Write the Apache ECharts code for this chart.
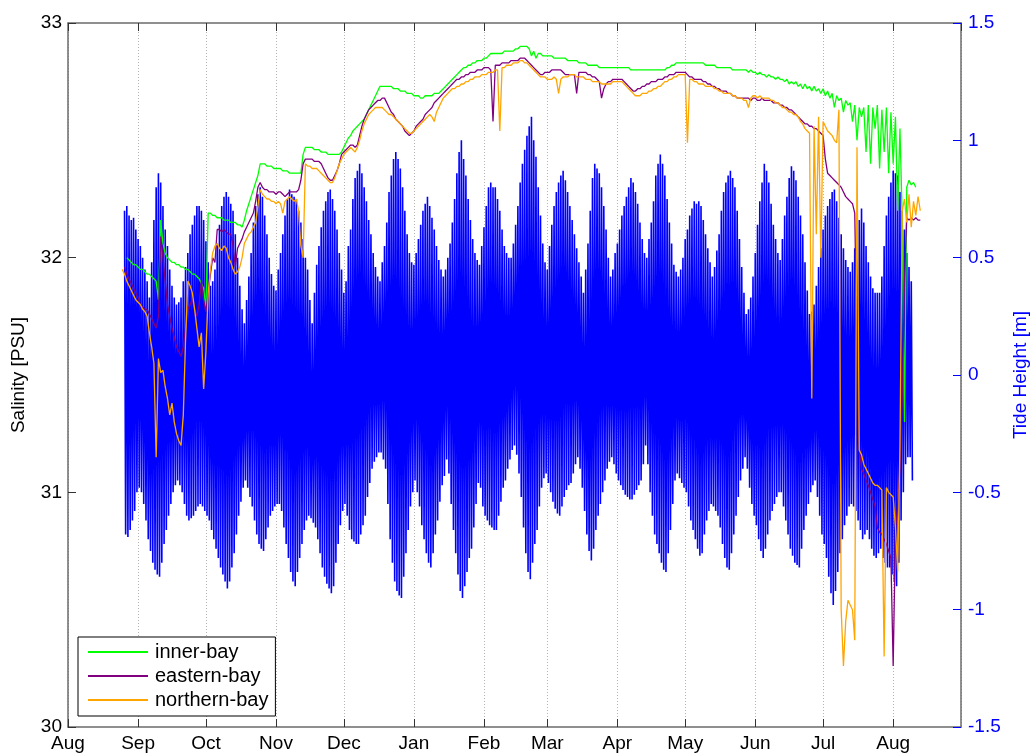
<!DOCTYPE html>
<html>
<head>
<meta charset="utf-8">
<script src="https://cdn.jsdelivr.net/npm/echarts@6/dist/echarts.min.js"></script>
<style>
  html, body { margin: 0; padding: 0; background: #ffffff; }
  #chart { width: 1032px; height: 754px; }
</style>
</head>
<body>
<div id="chart"></div>
<script>
// Month names used for the time-axis labels
const monthLabels = ['Jan', 'Feb', 'Mar', 'Apr', 'May', 'Jun', 'Jul', 'Aug', 'Sep', 'Oct', 'Nov', 'Dec'];

// Axis range of the record
const axisStart = [2012, 7, 1];   // 1 Aug 2012
const axisEnd = [2013, 7, 31];    // 31 Aug 2013

// Daily salinity [PSU], one value per day starting 25 Aug 2012
const salinityStart = [2012, 7, 25];

const innerBay = [
  null, null, 32.00, 31.99, 31.98, 31.97, 31.97, 31.96, 31.95, 31.95,
  31.94, 31.93, 31.93, 31.92, 31.91, 31.90, 31.82, 32.16, 32.06, 32.02,
  32.00, 31.99, 31.98, 31.98, 31.97, 31.97, 31.96, 31.96, 31.95, 31.95,
  31.94, 31.93, 31.93, 31.92, 31.91, 31.89, 31.87, 31.78, 32.19, 32.19,
  32.18, 32.18, 32.17, 32.17, 32.17, 32.16, 32.16, 32.16, 32.15, 32.15,
  32.15, 32.14, 32.14, 32.13, 32.16, 32.20, 32.23, 32.26, 32.29, 32.32,
  32.35, 32.40, 32.40, 32.40, 32.39, 32.39, 32.39, 32.38, 32.38, 32.38,
  32.38, 32.37, 32.37, 32.37, 32.36, 32.36, 32.36, 32.36, 32.36, 32.36,
  32.44, 32.47, 32.47, 32.47, 32.47, 32.46, 32.46, 32.46, 32.45, 32.45,
  32.45, 32.44, 32.44, 32.44, 32.44, 32.44, 32.44, 32.45, 32.47, 32.49,
  32.51, 32.52, 32.54, 32.55, 32.56, 32.57, 32.58, 32.59, 32.61, 32.63,
  32.65, 32.67, 32.69, 32.71, 32.73, 32.73, 32.73, 32.73, 32.73, 32.73,
  32.72, 32.72, 32.72, 32.71, 32.71, 32.71, 32.70, 32.70, 32.70, 32.69,
  32.69, 32.69, 32.68, 32.68, 32.69, 32.69, 32.69, 32.69, 32.70, 32.70,
  32.70, 32.71, 32.72, 32.73, 32.74, 32.75, 32.76, 32.77, 32.78, 32.79,
  32.80, 32.81, 32.81, 32.82, 32.82, 32.83, 32.83, 32.84, 32.84, 32.84,
  32.85, 32.85, 32.86, 32.87, 32.87, 32.87, 32.87, 32.87, 32.87, 32.88,
  32.88, 32.88, 32.88, 32.88, 32.89, 32.89, 32.90, 32.90, 32.90, 32.90,
  32.89, 32.86, 32.88, 32.85, 32.87, 32.87, 32.86, 32.86, 32.86, 32.86,
  32.86, 32.85, 32.85, 32.85, 32.85, 32.85, 32.85, 32.84, 32.84, 32.84,
  32.84, 32.84, 32.83, 32.83, 32.83, 32.83, 32.82, 32.82, 32.82, 32.82,
  32.82, 32.81, 32.81, 32.81, 32.81, 32.81, 32.81, 32.81, 32.81, 32.81,
  32.81, 32.81, 32.81, 32.81, 32.81, 32.80, 32.80, 32.80, 32.80, 32.80,
  32.80, 32.80, 32.80, 32.80, 32.80, 32.80, 32.80, 32.80, 32.80, 32.80,
  32.80, 32.81, 32.81, 32.82, 32.82, 32.83, 32.83, 32.83, 32.83, 32.83,
  32.83, 32.83, 32.83, 32.83, 32.83, 32.83, 32.83, 32.83, 32.82, 32.82,
  32.82, 32.82, 32.82, 32.81, 32.81, 32.81, 32.81, 32.81, 32.81, 32.81,
  32.80, 32.80, 32.80, 32.80, 32.80, 32.80, 32.80, 32.79, 32.80, 32.79,
  32.79, 32.78, 32.79, 32.78, 32.78, 32.77, 32.78, 32.77, 32.77, 32.76,
  32.77, 32.76, 32.76, 32.75, 32.76, 32.74, 32.75, 32.74, 32.75, 32.73,
  32.74, 32.72, 32.74, 32.72, 32.73, 32.71, 32.73, 32.71, 32.72, 32.70,
  32.72, 32.69, 32.71, 32.68, 32.70, 32.64, 32.69, 32.67, 32.68, 32.62,
  32.67, 32.65, 32.66, 32.58, 32.65, 32.50, 32.64, 32.60, 32.64, 32.45,
  32.65, 32.40, 32.64, 32.55, 32.65, 32.38, 32.63, 32.45, 32.64, 32.36,
  32.62, 32.40, 32.60, 32.20, 32.55, 32.17, 31.30, 32.30, 32.33, 32.31,
  32.32, 32.30, null, null
];

const easternBay = [
  null, 31.96, 31.93, 31.91, 31.89, 31.87, 31.85, 31.83, 31.80, 31.79,
  31.78, 31.78, 31.76, 31.74, 31.72, 31.70, 31.75, 32.09, 32.00, 31.90,
  31.80, 31.75, 31.70, 31.66, 31.62, 31.60, 31.58, 31.62, 31.70, 31.78,
  31.80, 31.82, 31.78, 31.75, 31.80, 31.90, 31.82, 31.77, 31.85, 31.93,
  32.00, 31.98, 32.12, 32.12, 32.11, 32.12, 32.11, 32.10, 32.10, 32.05,
  31.96, 32.04, 32.06, 32.08, 32.11, 32.13, 32.15, 32.17, 32.19, 32.24,
  32.30, 32.32, 32.30, 32.29, 32.29, 32.28, 32.28, 32.28, 32.27, 32.28,
  32.28, 32.27, 32.26, 32.27, 32.28, 32.28, 32.28, 32.28, 32.29, 32.33,
  32.40, 32.42, 32.42, 32.42, 32.42, 32.41, 32.41, 32.41, 32.40, 32.38,
  32.36, 32.34, 32.33, 32.33, 32.35, 32.37, 32.40, 32.44, 32.45, 32.46,
  32.47, 32.48, 32.48, 32.47, 32.48, 32.52, 32.56, 32.59, 32.61, 32.63,
  32.64, 32.65, 32.66, 32.67, 32.67, 32.68, 32.68, 32.66, 32.64, 32.62,
  32.61, 32.59, 32.58, 32.57, 32.56, 32.54, 32.53, 32.52, 32.53, 32.54,
  32.56, 32.57, 32.58, 32.59, 32.61, 32.62, 32.63, 32.64, 32.66, 32.67,
  32.68, 32.69, 32.70, 32.71, 32.72, 32.73, 32.74, 32.75, 32.76, 32.76,
  32.77, 32.77, 32.78, 32.78, 32.79, 32.79, 32.79, 32.80, 32.80, 32.80,
  32.81, 32.81, 32.81, 32.80, 32.58, 32.82, 32.82, 32.82, 32.83, 32.83,
  32.83, 32.83, 32.84, 32.84, 32.84, 32.84, 32.85, 32.85, 32.85, 32.84,
  32.83, 32.82, 32.81, 32.80, 32.79, 32.78, 32.78, 32.79, 32.79, 32.79,
  32.80, 32.80, 32.80, 32.80, 32.80, 32.79, 32.78, 32.78, 32.78, 32.78,
  32.78, 32.70, 32.79, 32.79, 32.79, 32.79, 32.78, 32.78, 32.77, 32.77,
  32.76, 32.75, 32.68, 32.72, 32.74, 32.75, 32.75, 32.76, 32.76, 32.76,
  32.76, 32.76, 32.75, 32.74, 32.73, 32.72, 32.71, 32.71, 32.72, 32.72,
  32.73, 32.73, 32.74, 32.74, 32.75, 32.75, 32.75, 32.76, 32.76, 32.76,
  32.77, 32.77, 32.78, 32.78, 32.78, 32.79, 32.79, 32.79, 32.79, 32.79,
  32.78, 32.77, 32.77, 32.76, 32.76, 32.76, 32.76, 32.75, 32.75, 32.74,
  32.74, 32.73, 32.73, 32.72, 32.72, 32.71, 32.71, 32.71, 32.70, 32.70,
  32.69, 32.69, 32.68, 32.68, 32.68, 32.68, 32.68, 32.68, 32.67, 32.68,
  32.68, 32.67, 32.67, 32.68, 32.67, 32.67, 32.67, 32.67, 32.66, 32.66,
  32.66, 32.65, 32.65, 32.64, 32.64, 32.63, 32.63, 32.62, 32.61, 32.60,
  32.59, 32.58, 32.57, 32.57, 32.56, 32.56, 32.55, 32.55, 32.54, 32.53,
  32.52, 32.42, 32.36, 32.35, 32.34, 32.33, 32.32, 32.31, 32.30, 32.28,
  32.26, 32.25, 32.24, 32.23, 32.19, 31.60, 31.20, 31.10, 31.08, 31.05,
  31.03, 31.00, 30.97, 30.94, 30.85, 30.83, 30.82, 30.80, 30.78, 30.75,
  30.72, 30.26, 30.83, 30.95, 31.10, 31.40, 31.90, 32.17, 32.16, 32.17,
  32.16, 32.17, 32.16, 32.16
];

const northernBay = [
  31.95, 31.93, 31.90, 31.88, 31.86, 31.84, 31.82, 31.81, 31.80, 31.78,
  31.77, 31.75, 31.68, 31.62, 31.55, 31.15, 31.57, 31.51, 31.52, 31.45,
  31.40, 31.33, 31.38, 31.30, 31.25, 31.22, 31.20, 31.33, 31.65, 31.90,
  31.88, 31.85, 31.78, 31.70, 31.62, 31.68, 31.44, 31.60, 31.85, 31.95,
  32.02, 32.05, 32.06, 32.04, 32.03, 32.05, 32.04, 32.00, 31.98, 31.95,
  31.93, 31.94, 31.96, 32.00, 32.06, 32.08, 32.10, 32.11, 32.13, 32.15,
  32.22, 32.29, 32.27, 32.26, 32.25, 32.25, 32.24, 32.24, 32.23, 32.24,
  32.23, 32.19, 32.24, 32.25, 32.26, 32.25, 32.24, 32.25, 32.20, 32.05,
  32.00, 32.40, 32.39, 32.39, 32.38, 32.38, 32.38, 32.37, 32.36, 32.35,
  32.34, 32.33, 32.32, 32.32, 32.34, 32.37, 32.40, 32.42, 32.44, 32.45,
  32.46, 32.47, 32.46, 32.45, 32.47, 32.50, 32.54, 32.57, 32.59, 32.61,
  32.62, 32.63, 32.64, 32.64, 32.64, 32.64, 32.63, 32.62, 32.61, 32.61,
  32.60, 32.59, 32.58, 32.57, 32.56, 32.55, 32.54, 32.53, 32.53, 32.54,
  32.55, 32.56, 32.57, 32.58, 32.59, 32.60, 32.61, 32.60, 32.58, 32.62,
  32.64, 32.66, 32.68, 32.69, 32.70, 32.71, 32.72, 32.72, 32.73, 32.73,
  32.74, 32.74, 32.75, 32.75, 32.76, 32.76, 32.77, 32.77, 32.77, 32.78,
  32.78, 32.78, 32.79, 32.79, 32.79, 32.80, 32.80, 32.54, 32.81, 32.81,
  32.82, 32.82, 32.82, 32.83, 32.83, 32.83, 32.84, 32.84, 32.83, 32.83,
  32.82, 32.81, 32.80, 32.79, 32.78, 32.77, 32.77, 32.77, 32.76, 32.76,
  32.76, 32.77, 32.76, 32.70, 32.76, 32.77, 32.77, 32.77, 32.78, 32.78,
  32.78, 32.77, 32.77, 32.77, 32.77, 32.76, 32.76, 32.76, 32.75, 32.75,
  32.75, 32.75, 32.74, 32.74, 32.74, 32.74, 32.74, 32.75, 32.75, 32.75,
  32.75, 32.75, 32.74, 32.73, 32.72, 32.71, 32.70, 32.69, 32.69, 32.69,
  32.70, 32.70, 32.70, 32.71, 32.71, 32.72, 32.72, 32.73, 32.73, 32.74,
  32.75, 32.75, 32.76, 32.76, 32.77, 32.77, 32.78, 32.78, 32.78, 32.78,
  32.49, 32.76, 32.76, 32.75, 32.75, 32.74, 32.74, 32.74, 32.73, 32.73,
  32.73, 32.73, 32.72, 32.72, 32.71, 32.71, 32.70, 32.70, 32.70, 32.70,
  32.69, 32.69, 32.68, 32.68, 32.68, 32.67, 32.67, 32.64, 32.68, 32.69,
  32.69, 32.68, 32.69, 32.68, 32.68, 32.68, 32.68, 32.67, 32.67, 32.66,
  32.66, 32.65, 32.64, 32.64, 32.63, 32.62, 32.62, 32.61, 32.61, 32.60,
  32.58, 32.57, 32.55, 32.54, 32.53, 31.40, 32.56, 32.10, 32.60, 32.00,
  32.58, 32.56, 32.54, 32.53, 32.52, 32.50, 32.49, 32.63, 30.50, 30.26,
  30.45, 30.54, 30.52, 30.50, 30.37, 32.47, 31.18, 31.16, 31.12, 31.10,
  31.08, 31.06, 31.04, 31.03, 31.03, 31.02, 31.01, 30.30, 31.02, 31.00,
  30.99, 30.98, 30.85, 30.66, 31.20, 32.20, 32.25, 32.15, 32.27, 32.13,
  32.24, 32.18, 32.26, 32.20
];

// Daily tide extremes [m], starting 26 Aug 2012: high water, then low water half a day later
const tideStart = [2012, 7, 26];

const tideHigh = [
  0.70, 0.72, 0.68, 0.66, 0.67, 0.62, 0.58, 0.55, 0.50, 0.45,
  0.40, 0.33, 0.48, 0.66, 0.80, 0.86, 0.82, 0.72, 0.62, 0.55,
  0.45, 0.38, 0.33, 0.30, 0.31, 0.33, 0.40, 0.46, 0.52, 0.60,
  0.64, 0.68, 0.72, 0.72, 0.70, 0.66, 0.57, 0.48, 0.38, 0.40,
  0.45, 0.56, 0.64, 0.72, 0.76, 0.78, 0.76, 0.73, 0.70, 0.60,
  0.50, 0.38, 0.28, 0.22, 0.32, 0.42, 0.52, 0.65, 0.72, 0.77,
  0.80, 0.76, 0.68, 0.60, 0.50, 0.43, 0.38, 0.36, 0.45, 0.52,
  0.60, 0.68, 0.75, 0.79, 0.77, 0.76, 0.75, 0.70, 0.65, 0.58,
  0.50, 0.45, 0.32, 0.22, 0.35, 0.47, 0.55, 0.63, 0.70, 0.74,
  0.78, 0.79, 0.75, 0.70, 0.62, 0.52, 0.45, 0.35, 0.40, 0.55,
  0.62, 0.75, 0.84, 0.87, 0.90, 0.86, 0.80, 0.74, 0.66, 0.60,
  0.52, 0.46, 0.42, 0.40, 0.48, 0.55, 0.65, 0.78, 0.85, 0.92,
  0.95, 0.92, 0.88, 0.80, 0.70, 0.60, 0.52, 0.48, 0.47, 0.52,
  0.58, 0.64, 0.70, 0.73, 0.76, 0.72, 0.67, 0.62, 0.55, 0.49,
  0.45, 0.42, 0.45, 0.50, 0.56, 0.65, 0.75, 0.86, 0.95, 1.00,
  0.92, 0.85, 0.75, 0.66, 0.58, 0.52, 0.49, 0.47, 0.55, 0.63,
  0.72, 0.80, 0.82, 0.80, 0.80, 0.75, 0.70, 0.62, 0.55, 0.52,
  0.50, 0.50, 0.56, 0.64, 0.72, 0.82, 0.90, 0.96, 1.02, 1.06,
  1.10, 1.00, 0.93, 0.80, 0.68, 0.56, 0.48, 0.45, 0.55, 0.64,
  0.72, 0.78, 0.82, 0.85, 0.87, 0.83, 0.78, 0.72, 0.66, 0.60,
  0.54, 0.48, 0.42, 0.35, 0.45, 0.56, 0.70, 0.84, 0.90, 0.88,
  0.86, 0.80, 0.72, 0.62, 0.50, 0.42, 0.45, 0.52, 0.56, 0.62,
  0.68, 0.72, 0.76, 0.80, 0.84, 0.82, 0.78, 0.73, 0.65, 0.58,
  0.52, 0.50, 0.58, 0.65, 0.74, 0.85, 0.90, 0.94, 0.90, 0.85,
  0.75, 0.65, 0.56, 0.47, 0.44, 0.42, 0.45, 0.50, 0.58, 0.62,
  0.68, 0.71, 0.74, 0.73, 0.74, 0.72, 0.66, 0.60, 0.54, 0.48,
  0.42, 0.46, 0.53, 0.60, 0.70, 0.78, 0.82, 0.85, 0.87, 0.84,
  0.80, 0.70, 0.58, 0.46, 0.35, 0.26, 0.28, 0.33, 0.42, 0.52,
  0.64, 0.74, 0.82, 0.90, 0.87, 0.82, 0.73, 0.64, 0.58, 0.52,
  0.49, 0.58, 0.68, 0.76, 0.84, 0.89, 0.87, 0.83, 0.76, 0.68,
  0.60, 0.48, 0.36, 0.26, 0.27, 0.30, 0.38, 0.46, 0.54, 0.62,
  0.68, 0.72, 0.75, 0.78, 0.79, 0.74, 0.67, 0.60, 0.54, 0.49,
  0.46, 0.44, 0.48, 0.54, 0.60, 0.66, 0.71, 0.65, 0.55, 0.48,
  0.42, 0.37, 0.35, 0.35, 0.35, 0.42, 0.55, 0.68, 0.76, 0.82,
  0.87, 0.86, 0.85, 0.78, 0.70, 0.62, 0.52, 0.46, 0.40
];

const tideLow = [
  -0.68, -0.69, -0.66, -0.62, -0.58, -0.50, -0.48, -0.50, -0.55, -0.62,
  -0.70, -0.75, -0.80, -0.83, -0.85, -0.86, -0.80, -0.72, -0.66, -0.60,
  -0.55, -0.50, -0.47, -0.45, -0.47, -0.50, -0.55, -0.60, -0.62, -0.61,
  -0.60, -0.58, -0.56, -0.55, -0.56, -0.58, -0.60, -0.62, -0.66, -0.70,
  -0.74, -0.78, -0.82, -0.85, -0.88, -0.91, -0.88, -0.82, -0.76, -0.68,
  -0.60, -0.54, -0.48, -0.45, -0.48, -0.52, -0.56, -0.62, -0.68, -0.72,
  -0.74, -0.75, -0.70, -0.65, -0.60, -0.58, -0.56, -0.55, -0.55, -0.58,
  -0.65, -0.72, -0.78, -0.84, -0.88, -0.90, -0.84, -0.78, -0.72, -0.66,
  -0.62, -0.60, -0.61, -0.63, -0.65, -0.70, -0.76, -0.82, -0.86, -0.89,
  -0.91, -0.93, -0.90, -0.80, -0.72, -0.64, -0.58, -0.55, -0.60, -0.66,
  -0.70, -0.71, -0.72, -0.72, -0.68, -0.64, -0.60, -0.52, -0.46, -0.40,
  -0.37, -0.35, -0.33, -0.33, -0.36, -0.40, -0.55, -0.70, -0.80, -0.88,
  -0.92, -0.94, -0.95, -0.86, -0.76, -0.66, -0.56, -0.50, -0.45, -0.50,
  -0.56, -0.64, -0.70, -0.76, -0.80, -0.82, -0.76, -0.68, -0.62, -0.54,
  -0.47, -0.43, -0.36, -0.42, -0.55, -0.66, -0.76, -0.85, -0.92, -0.95,
  -0.90, -0.84, -0.78, -0.74, -0.65, -0.55, -0.46, -0.48, -0.56, -0.60,
  -0.62, -0.64, -0.65, -0.66, -0.66, -0.60, -0.54, -0.48, -0.45, -0.40,
  -0.36, -0.32, -0.30, -0.34, -0.42, -0.52, -0.65, -0.76, -0.84, -0.87,
  -0.80, -0.72, -0.66, -0.56, -0.48, -0.44, -0.42, -0.46, -0.50, -0.54,
  -0.57, -0.59, -0.60, -0.56, -0.52, -0.49, -0.47, -0.46, -0.42, -0.38,
  -0.35, -0.40, -0.48, -0.58, -0.68, -0.75, -0.79, -0.74, -0.66, -0.60,
  -0.55, -0.50, -0.45, -0.40, -0.37, -0.35, -0.38, -0.42, -0.45, -0.47,
  -0.49, -0.51, -0.52, -0.53, -0.53, -0.51, -0.49, -0.47, -0.45, -0.38,
  -0.30, -0.38, -0.50, -0.60, -0.68, -0.72, -0.76, -0.80, -0.83, -0.84,
  -0.76, -0.66, -0.55, -0.45, -0.42, -0.44, -0.46, -0.48, -0.50, -0.56,
  -0.62, -0.66, -0.70, -0.74, -0.77, -0.76, -0.68, -0.62, -0.58, -0.55,
  -0.56, -0.58, -0.60, -0.65, -0.72, -0.78, -0.82, -0.83, -0.76, -0.68,
  -0.60, -0.52, -0.45, -0.40, -0.35, -0.40, -0.48, -0.55, -0.60, -0.64,
  -0.70, -0.75, -0.78, -0.74, -0.68, -0.62, -0.58, -0.55, -0.52, -0.50,
  -0.50, -0.56, -0.62, -0.68, -0.74, -0.77, -0.80, -0.81, -0.82, -0.74,
  -0.66, -0.60, -0.55, -0.50, -0.47, -0.45, -0.52, -0.60, -0.68, -0.72,
  -0.78, -0.86, -0.93, -0.98, -0.92, -0.84, -0.76, -0.70, -0.64, -0.60,
  -0.56, -0.55, -0.56, -0.58, -0.62, -0.66, -0.70, -0.68, -0.66, -0.70,
  -0.74, -0.77, -0.78, -0.76, -0.74, -0.78, -0.80, -0.82, -0.82, -0.85,
  -0.88, -0.90, -0.80, -0.62, -0.50, -0.38, -0.35, -0.35, -0.45
];

// Axis ranges and ticks
const salinityMin = 30, salinityMax = 33, salinityStep = 1;
const tideMin = -1.5, tideMax = 1.5, tideStep = 0.5;

const DAY = 24 * 3600 * 1000;
function dateOf(parts, offsetDays) {
  return new Date(parts[0], parts[1], parts[2] + offsetDays).getTime();
}

function dailySeries(values) {
  return values.map((v, i) => [dateOf(salinityStart, i), v]);
}

// Tide trace: high water at the start of each day, low water half a day later
const tideTrace = [];
tideHigh.forEach((h, i) => {
  const t = dateOf(tideStart, i);
  tideTrace.push([t, h]);
  tideTrace.push([t + DAY / 2, tideLow[i]]);
});

const FONT = 'Liberation Sans, Arial, Helvetica, sans-serif';
const frameColor = '#6b6b6b';

const timeAxisBase = {
  type: 'time',
  min: dateOf(axisStart, 0),
  max: dateOf(axisEnd, 0),
  minInterval: 28 * DAY,
  maxInterval: 31 * DAY,
  axisLine: { show: true, onZero: false, lineStyle: { color: frameColor, width: 1.5 } },
  axisTick: { show: true, inside: true, length: 8, lineStyle: { color: '#333', width: 1 } },
  minorTick: { show: false }
};

const chart = echarts.init(document.getElementById('chart'), null, { renderer: 'canvas' });

chart.setOption({
  animation: false,
  backgroundColor: '#ffffff',
  textStyle: { fontFamily: FONT },
  grid: {
    left: 68, right: 71, top: 23, bottom: 27,
    containLabel: false,
    outerBoundsMode: 'none'
  },
  legend: {
    orient: 'vertical',
    left: 78,
    top: 637,
    data: ['inner-bay', 'eastern-bay', 'northern-bay'],
    icon: 'rect',
    itemWidth: 60,
    itemHeight: 2,
    itemGap: 4,
    padding: [5, 7, 6, 10],
    borderColor: '#000',
    borderWidth: 1,
    backgroundColor: '#fff',
    textStyle: { fontSize: 20, color: '#000', fontFamily: FONT, padding: [0, 0, 0, 2] }
  },
  xAxis: [
    Object.assign({}, timeAxisBase, {
      position: 'bottom',
      axisLabel: {
        fontSize: 19, color: '#000', margin: 7, fontFamily: FONT,
        formatter: v => monthLabels[new Date(v).getMonth()]
      },
      splitLine: { show: true, lineStyle: { color: '#b4b4b4', type: [1, 2], width: 1 } }
    }),
    Object.assign({}, timeAxisBase, {
      position: 'top',
      axisLabel: { show: false },
      splitLine: { show: false }
    })
  ],
  yAxis: [
    {
      type: 'value',
      position: 'left',
      min: salinityMin, max: salinityMax, interval: salinityStep,
      name: 'Salinity [PSU]',
      nameLocation: 'middle',
      nameRotate: 90,
      nameGap: 40,
      nameTextStyle: { fontSize: 19, color: '#000', fontFamily: FONT },
      axisLine: { show: true, onZero: false, lineStyle: { color: frameColor, width: 1.5 } },
      axisTick: { show: true, inside: true, length: 8, lineStyle: { color: '#333' } },
      axisLabel: { fontSize: 19, color: '#000', margin: 6, fontFamily: FONT },
      splitLine: { show: false }
    },
    {
      type: 'value',
      position: 'right',
      min: tideMin, max: tideMax, interval: tideStep,
      name: 'Tide Height [m]',
      nameLocation: 'middle',
      nameRotate: 90,
      nameGap: 49,
      nameTextStyle: { fontSize: 19, color: '#0000ff', fontFamily: FONT },
      axisLine: { show: true, onZero: false, lineStyle: { color: frameColor, width: 1.5 } },
      axisTick: { show: true, inside: true, length: 8, lineStyle: { color: '#0000ff' } },
      axisLabel: { fontSize: 19, color: '#0000ff', margin: 7, fontFamily: FONT },
      splitLine: { show: false }
    }
  ],
  series: [
    {
      name: 'Tide',
      type: 'line',
      xAxisIndex: 0,
      yAxisIndex: 1,
      data: tideTrace,
      showSymbol: false,
      symbol: 'none',
      sampling: null,
      lineStyle: { color: '#0000ff', width: 1.6 },
      z: 1
    },
    {
      name: 'inner-bay',
      type: 'line',
      yAxisIndex: 0,
      data: dailySeries(innerBay),
      symbol: 'none',
      connectNulls: false,
      lineStyle: { color: '#00ff00', width: 1.3 },
      itemStyle: { color: '#00ff00' },
      z: 3
    },
    {
      name: 'eastern-bay',
      type: 'line',
      yAxisIndex: 0,
      data: dailySeries(easternBay),
      symbol: 'none',
      connectNulls: false,
      lineStyle: { color: '#800080', width: 1.3 },
      itemStyle: { color: '#800080' },
      z: 4
    },
    {
      name: 'northern-bay',
      type: 'line',
      yAxisIndex: 0,
      data: dailySeries(northernBay),
      symbol: 'none',
      connectNulls: false,
      lineStyle: { color: '#ffa500', width: 1.3 },
      itemStyle: { color: '#ffa500' },
      z: 5
    }
  ]
});
</script>
</body>
</html>
